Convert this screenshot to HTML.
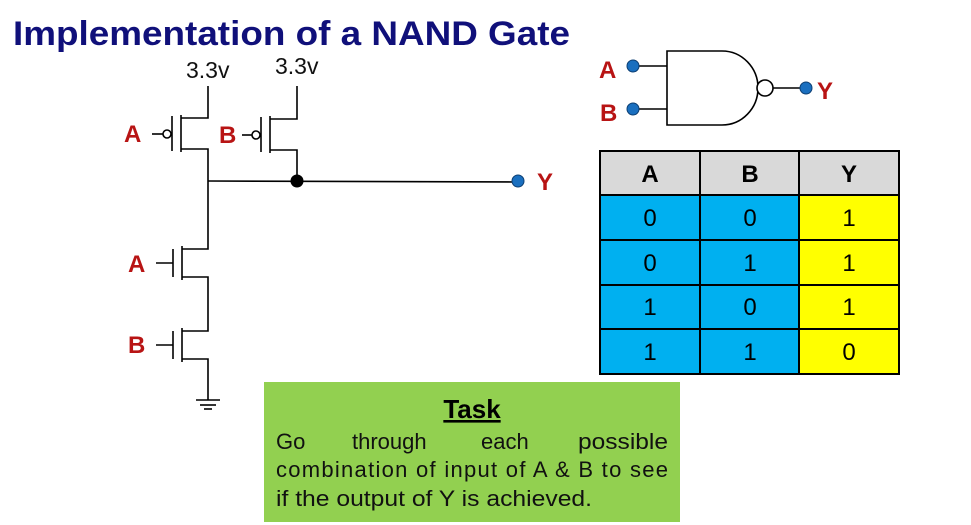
<!DOCTYPE html>
<html><head><meta charset="utf-8"><style>
html,body{margin:0;padding:0;background:#fff;}
svg{display:block;}
text{font-family:"Liberation Sans",Arial,sans-serif;}
</style></head><body>
<svg width="971" height="525" viewBox="0 0 971 525" xmlns="http://www.w3.org/2000/svg">
<rect width="971" height="525" fill="#fff"/>
<text x="13" y="45" font-size="34" font-weight="bold" fill="#10107a" textLength="557" lengthAdjust="spacingAndGlyphs">Implementation of a NAND Gate</text>
<text x="186" y="78" font-size="23" fill="#111">3.3v</text>
<text x="275" y="74" font-size="23" fill="#111">3.3v</text>
<g stroke="#000" stroke-width="1.6" fill="none">
<polyline points="208,86 208,118 181,118"/>
<polyline points="181,149 208,149 208,249 182,249"/>
<line x1="181" y1="115" x2="181" y2="152"/>
<line x1="172" y1="116" x2="172" y2="151"/>
<line x1="152" y1="134" x2="163" y2="134"/>
<circle cx="167" cy="134" r="4" fill="#fff"/>
<polyline points="297,86 297,119 270,119"/>
<polyline points="270,150 297,150 297,181"/>
<line x1="270" y1="116" x2="270" y2="153"/>
<line x1="261" y1="117" x2="261" y2="152"/>
<line x1="242" y1="135" x2="252" y2="135"/>
<circle cx="256" cy="135" r="4" fill="#fff"/>
<line x1="208" y1="181" x2="514" y2="182"/>
<line x1="182" y1="246" x2="182" y2="280"/>
<line x1="173" y1="249" x2="173" y2="277"/>
<line x1="156" y1="263" x2="173" y2="263"/>
<polyline points="182,277 208,277 208,331 182,331"/>
<line x1="182" y1="328" x2="182" y2="362"/>
<line x1="173" y1="331" x2="173" y2="359"/>
<line x1="156" y1="345" x2="173" y2="345"/>
<polyline points="182,359 208,359 208,400"/>
<line x1="196" y1="400" x2="220" y2="400"/>
<line x1="200" y1="405" x2="216" y2="405"/>
<line x1="204" y1="409" x2="212" y2="409"/>
</g>
<circle cx="297" cy="181" r="6.5" fill="#000"/>
<circle cx="518" cy="181" r="6" fill="#1a6fbf" stroke="#0d3f73" stroke-width="1"/>
<g font-size="24" font-weight="bold" fill="#b81414">
<text x="124" y="142">A</text>
<text x="219" y="143">B</text>
<text x="128" y="272">A</text>
<text x="128" y="353">B</text>
<text x="537" y="190">Y</text>
<text x="599" y="78">A</text>
<text x="600" y="121">B</text>
<text x="817" y="99">Y</text>
</g>
<g stroke="#000" stroke-width="1.6" fill="none">
<line x1="633" y1="66" x2="667" y2="66"/>
<line x1="633" y1="109" x2="667" y2="109"/>
<path d="M667,51 L722,51 A36,37 0 0 1 722,125 L667,125 Z" fill="#fff"/>
<circle cx="765" cy="88" r="8" fill="#fff"/>
<line x1="773" y1="88" x2="806" y2="88"/>
</g>
<circle cx="633" cy="66" r="6" fill="#1a6fbf" stroke="#0d3f73"/>
<circle cx="633" cy="109" r="6" fill="#1a6fbf" stroke="#0d3f73"/>
<circle cx="806" cy="88" r="6" fill="#1a6fbf" stroke="#0d3f73"/>
<rect x="600" y="151" width="299" height="44" fill="#d9d9d9"/>
<rect x="600" y="195" width="199" height="179" fill="#00b0f0"/>
<rect x="799" y="195" width="100" height="179" fill="#ffff00"/>
<g stroke="#000" stroke-width="2">
<rect x="600" y="151" width="299" height="223" fill="none"/>
<line x1="700" y1="151" x2="700" y2="374"/>
<line x1="799" y1="151" x2="799" y2="374"/>
<line x1="600" y1="195" x2="899" y2="195"/>
<line x1="600" y1="240" x2="899" y2="240"/>
<line x1="600" y1="285" x2="899" y2="285"/>
<line x1="600" y1="329" x2="899" y2="329"/>
</g>
<g font-size="24" text-anchor="middle" fill="#000">
<text x="650" y="182" font-weight="bold">A</text>
<text x="750" y="182" font-weight="bold">B</text>
<text x="849" y="182" font-weight="bold">Y</text>
<text x="650" y="226">0</text><text x="750" y="226">0</text><text x="849" y="226">1</text>
<text x="650" y="271">0</text><text x="750" y="271">1</text><text x="849" y="271">1</text>
<text x="650" y="315">1</text><text x="750" y="315">0</text><text x="849" y="315">1</text>
<text x="650" y="360">1</text><text x="750" y="360">1</text><text x="849" y="360">0</text>
</g>
<rect x="264" y="382" width="416" height="140" fill="#92d050"/>
<text x="472" y="418" font-size="26" font-weight="bold" text-anchor="middle" text-decoration="underline">Task</text>
<g font-size="22" fill="#111">
<text x="276" y="449">Go</text>
<text x="352" y="449">through</text>
<text x="481" y="449">each</text>
<text x="578" y="449" textLength="90" lengthAdjust="spacingAndGlyphs">possible</text>
<text x="276" y="477" textLength="392" lengthAdjust="spacing">combination of input of A &amp; B to see</text>
<text x="276" y="506" textLength="316" lengthAdjust="spacingAndGlyphs">if the output of Y is achieved.</text>
</g>
</svg>
</body></html>
